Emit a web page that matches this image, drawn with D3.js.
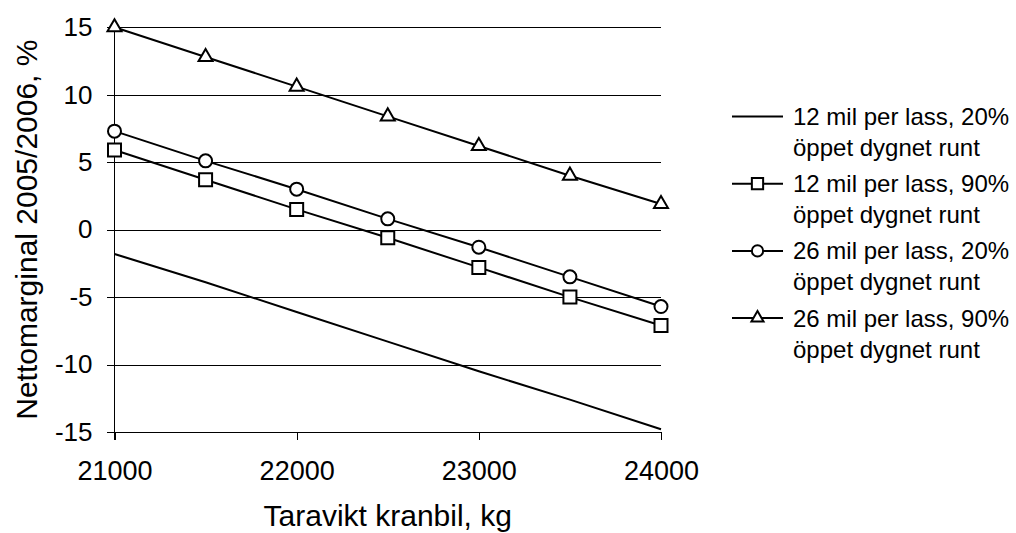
<!DOCTYPE html>
<html>
<head>
<meta charset="utf-8">
<script src="https://cdn.jsdelivr.net/npm/d3@7"></script>
<style>
  html, body { margin: 0; padding: 0; background: #fff; }
  svg { display: block; font-family: "Liberation Sans", Arial, sans-serif; }
</style>
</head>
<body>
<svg id="chart" width="1016" height="533"></svg>
<script>
// Tare weight of the crane truck (kg)
const weights = [21000, 21500, 22000, 22500, 23000, 23500, 24000];

// Net margin 2005/2006 (%) per scenario
const mil12_20 = [-1.8, -3.9, -6.1, -8.3, -10.5, -12.6, -14.8];
const mil12_90 = [5.9, 3.7, 1.5, -0.6, -2.8, -5.0, -7.1];
const mil26_20 = [7.3, 5.1, 3.0, 0.8, -1.3, -3.5, -5.7];
const mil26_90 = [15.0, 12.8, 10.6, 8.4, 6.2, 4.0, 1.9];

const seriesNames = [
  ["12 mil per lass, 20%", "öppet dygnet runt"],
  ["12 mil per lass, 90%", "öppet dygnet runt"],
  ["26 mil per lass, 20%", "öppet dygnet runt"],
  ["26 mil per lass, 90%", "öppet dygnet runt"]
];
const markerTypes = [null, "square", "circle", "triangle"];

const xTicks = [21000, 22000, 23000, 24000];
const yTicks = [-15, -10, -5, 0, 5, 10, 15];

const xTitle = "Taravikt kranbil, kg";
const yTitle = "Nettomarginal 2005/2006, %";

const series = [mil12_20, mil12_90, mil26_20, mil26_90].map((vals, i) => ({
  name: seriesNames[i],
  marker: markerTypes[i],
  points: weights.map((w, j) => ({ x: w, y: vals[j] }))
}));

const svg = d3.select("#chart");
const plotLeft = 114.5, plotRight = 661, plotTop = 27.3, plotBottom = 432;

const x = d3.scaleLinear().domain([21000, 24000]).range([plotLeft, plotRight]);
const y = d3.scaleLinear().domain([-15, 15]).range([plotBottom, plotTop]);

// horizontal gridlines
svg.append("g")
  .selectAll("line")
  .data(yTicks.filter(v => v !== -15))
  .join("line")
  .attr("x1", plotLeft).attr("x2", plotRight)
  .attr("y1", d => Math.round(y(d)) + 0.5).attr("y2", d => Math.round(y(d)) + 0.5)
  .attr("stroke", "#000").attr("stroke-width", 1)
  .attr("shape-rendering", "crispEdges");

// axes (plain hyphen for negatives)
const plainFormat = d => String(d);
const yAxis = svg.append("g")
  .attr("transform", `translate(${plotLeft},0)`)
  .call(d3.axisLeft(y).tickValues(yTicks).tickSize(8).tickPadding(14).tickFormat(plainFormat));
const xAxis = svg.append("g")
  .attr("transform", `translate(0,${plotBottom})`)
  .call(d3.axisBottom(x).tickValues(xTicks).tickSize(8).tickPadding(21).tickFormat(plainFormat));

[yAxis, xAxis].forEach(g => {
  g.selectAll("line").attr("stroke", "#000").attr("shape-rendering", "crispEdges");
  g.select(".domain").remove();
  g.selectAll("text").attr("fill", "#000").attr("font-family", "Liberation Sans, Arial, sans-serif");
});
yAxis.selectAll("text").attr("font-size", 26);
xAxis.selectAll("text").attr("font-size", 27);

// axis lines
svg.append("line").attr("x1", plotLeft).attr("x2", plotLeft).attr("y1", plotTop).attr("y2", plotBottom + 8)
  .attr("stroke", "#000").attr("shape-rendering", "crispEdges");
svg.append("line").attr("x1", plotLeft - 8).attr("x2", plotRight).attr("y1", plotBottom + 0.5).attr("y2", plotBottom + 0.5)
  .attr("stroke", "#000").attr("shape-rendering", "crispEdges");

// marker generator
function markerPath(type, scale) {
  const sizes = { square: 169, circle: 133, triangle: 85 };
  const shapes = { square: d3.symbolSquare, circle: d3.symbolCircle, triangle: d3.symbolTriangle };
  return d3.symbol().type(shapes[type]).size(sizes[type] * scale)();
}

// series lines and markers
const line = d3.line().x(d => x(d.x)).y(d => y(d.y));
series.forEach(s => {
  svg.append("path")
    .datum(s.points)
    .attr("d", line)
    .attr("fill", "none")
    .attr("stroke", "#000")
    .attr("stroke-width", 2);
  if (s.marker) {
    svg.append("g")
      .selectAll("path")
      .data(s.points)
      .join("path")
      .attr("transform", d => `translate(${x(d.x)},${y(d.y)})`)
      .attr("d", markerPath(s.marker, 1))
      .attr("fill", "#fff")
      .attr("stroke", "#000")
      .attr("stroke-width", 2);
  }
});

// legend
const legend = svg.append("g").attr("font-size", 24);
series.forEach((s, i) => {
  const base = 125 + i * 67.2;
  const my = base - 8.5;
  legend.append("line").attr("x1", 732).attr("x2", 783).attr("y1", my).attr("y2", my)
    .attr("stroke", "#000").attr("stroke-width", 2);
  if (s.marker) {
    legend.append("path")
      .attr("transform", `translate(757.5,${my})`)
      .attr("d", markerPath(s.marker, 0.75))
      .attr("fill", "#fff").attr("stroke", "#000").attr("stroke-width", 2);
  }
  legend.append("text").attr("x", 793).attr("y", base).text(s.name[0]);
  legend.append("text").attr("x", 793).attr("y", base + 31).text(s.name[1]);
});

// axis titles
svg.append("text")
  .attr("x", (plotLeft + plotRight) / 2).attr("y", 526)
  .attr("text-anchor", "middle").attr("font-size", 30)
  .text(xTitle);
svg.append("text")
  .attr("transform", `translate(36.5,${(plotTop + plotBottom) / 2}) rotate(-90)`)
  .attr("text-anchor", "middle").attr("font-size", 30)
  .text(yTitle);
</script>
</body>
</html>
